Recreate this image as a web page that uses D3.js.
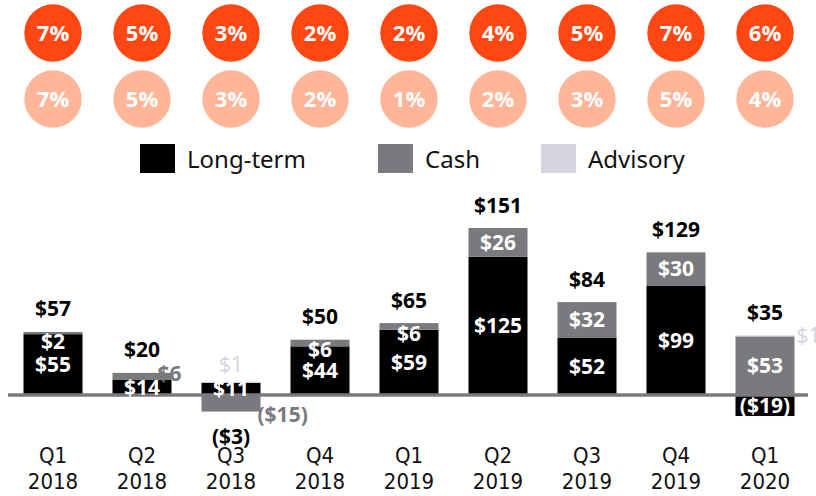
<!DOCTYPE html>
<html>
<head>
<meta charset="utf-8">
<script src="https://cdn.jsdelivr.net/npm/d3@7"></script>
<style>
  html, body { margin: 0; padding: 0; background: #fff; }
  svg { display: block; }
  .num { font-family: "Open Sans", "Liberation Sans", sans-serif; font-weight: 700; font-size: 21px; }
  .pct { font-family: "Open Sans", "Lato", sans-serif; font-weight: 700; font-size: 22px; fill: #fff; }
  .legend { font-family: "Noto Sans", "Open Sans", sans-serif; font-size: 24px; fill: #111; }
  .axis-label { font-family: "DejaVu Sans Condensed", "Liberation Sans Narrow", sans-serif; font-stretch: condensed; font-size: 22px; fill: #111; }
</style>
</head>
<body>
<div id="chart"></div>
<script>
// quarters and flows ($bn)
const quarters = ['Q1 2018', 'Q2 2018', 'Q3 2018', 'Q4 2018', 'Q1 2019', 'Q2 2019', 'Q3 2019', 'Q4 2019', 'Q1 2020'];
const longTerm = [55, 14, 11, 44, 59, 125, 52, 99, -19];
const cash     = [2, 6, -15, 6, 6, 26, 32, 30, 53];
const advisory = [0, 0, 1, 0, 0, 0, 0, 0, 1];
const totals   = [57, 20, -3, 50, 65, 151, 84, 129, 35];

// organic growth rates shown in circles
const growthTop    = ['7%', '5%', '3%', '2%', '2%', '4%', '5%', '7%', '6%'];
const growthBottom = ['7%', '5%', '3%', '2%', '1%', '2%', '3%', '5%', '4%'];

const seriesNames = ['Long-term', 'Cash', 'Advisory'];
const seriesColors = ['#000000', '#7a797e', '#d4d3de'];

const W = 816, H = 496;

const svg = d3.select('#chart').append('svg')
  .attr('width', W)
  .attr('height', H);

const x = d3.scaleBand()
  .domain(quarters)
  .range([8.5, 809.5])
  .paddingInner(0.337)
  .paddingOuter(0.1685);

const y = d3.scaleLinear()
  .domain([0, 151])
  .range([395, 228]);

const cx = d => x(d) + x.bandwidth() / 2;

// circles
const rows = [
  { vals: growthTop, cy: 33, fill: '#ff4713' },
  { vals: growthBottom, cy: 99, fill: '#ffb598' }
];
rows.forEach(function(row) {
  const g = svg.append('g');
  g.selectAll('circle').data(quarters).enter().append('circle')
    .attr('cx', cx)
    .attr('cy', row.cy)
    .attr('r', 28.7)
    .attr('fill', row.fill);
  g.selectAll('text').data(quarters).enter().append('text')
    .attr('class', 'pct')
    .attr('x', cx)
    .attr('y', row.cy + 8)
    .attr('text-anchor', 'middle')
    .text(function(d, i) { return row.vals[i]; });
});

// legend
const legendX = [140, 378, 541];
const legend = svg.append('g').selectAll('g').data(seriesNames).enter().append('g')
  .attr('transform', function(d, i) { return 'translate(' + legendX[i] + ',144)'; });
legend.append('rect')
  .attr('width', 35).attr('height', 29)
  .attr('fill', function(d, i) { return seriesColors[i]; });
legend.append('text')
  .attr('class', 'legend')
  .attr('x', 47).attr('y', 24)
  .text(d => d);

// stacked bars
const table = quarters.map(function(q, i) {
  return { q: q, lt: longTerm[i], cash: cash[i], adv: advisory[i] };
});
const stack = d3.stack().keys(['lt', 'cash', 'adv']).offset(d3.stackOffsetDiverging);
const layers = stack(table);

const bars = svg.append('g');
layers.forEach(function(layer, k) {
  bars.selectAll('.s' + k).data(layer).enter().append('rect')
    .attr('class', 's' + k)
    .attr('fill', seriesColors[k])
    .attr('x', d => x(d.data.q))
    .attr('width', x.bandwidth())
    .attr('y', d => y(Math.max(d[0], d[1])))
    .attr('height', d => Math.abs(y(d[0]) - y(d[1])));
});

// zero line
svg.append('line')
  .attr('x1', 8).attr('x2', 808)
  .attr('y1', y(0)).attr('y2', y(0))
  .attr('stroke', '#7a797e')
  .attr('stroke-width', 3.5);

const fmt = v => v < 0 ? '($' + (-v) + ')' : '$' + v;
const labels = svg.append('g');

function seg(k, i) {
  const d = layers[k][i];
  return { top: y(Math.max(d[0], d[1])), bottom: y(Math.min(d[0], d[1])) };
}

quarters.forEach(function(q, i) {
  const c = cx(q), right = x(q) + x.bandwidth();
  const lt = seg(0, i), cs = seg(1, i), ad = seg(2, i);
  const posTop = Math.min(lt.top, cs.top, ad.top, y(0));
  const negBottom = Math.max(lt.bottom, cs.bottom, ad.bottom, y(0));

  // long-term label
  labels.append('text').attr('class', 'num')
    .attr('x', c).attr('y', (lt.top + lt.bottom) / 2 + 7.5)
    .attr('text-anchor', 'middle').attr('fill', '#fff')
    .text(fmt(longTerm[i]));

  // cash label
  const ltShort = longTerm[i] > 0 && (lt.bottom - lt.top) < 30;
  if (ltShort && cash[i] > 0) {
    labels.append('text').attr('class', 'num')
      .attr('x', right - 2).attr('y', cs.top + 8)
      .attr('text-anchor', 'middle').attr('fill', seriesColors[1])
      .text(fmt(cash[i]));
  } else if (ltShort && cash[i] < 0) {
    labels.append('text').attr('class', 'num')
      .attr('x', right - 3).attr('y', cs.bottom + 10)
      .attr('text-anchor', 'start').attr('fill', seriesColors[1])
      .text(fmt(cash[i]));
  } else {
    const mid = Math.max((cs.top + cs.bottom) / 2, cs.top + 10);
    labels.append('text').attr('class', 'num')
      .attr('x', c).attr('y', mid + 7.5)
      .attr('text-anchor', 'middle').attr('fill', '#fff')
      .text(fmt(cash[i]));
  }

  // advisory label (only when present)
  if (advisory[i] !== 0) {
    const t = labels.append('text').attr('class', 'num')
      .attr('fill', seriesColors[2]).style('font-weight', 400).text(fmt(advisory[i]));
    if (totals[i] < 0) {
      t.attr('x', c).attr('y', posTop - 10).attr('text-anchor', 'middle');
    } else {
      t.attr('x', right + 2).attr('y', posTop + 8).attr('text-anchor', 'start');
    }
  }

  // total label
  labels.append('text').attr('class', 'num')
    .attr('x', c)
    .attr('y', totals[i] >= 0 ? posTop - 15.5 : negBottom + 32)
    .attr('text-anchor', 'middle').attr('fill', '#000')
    .text(fmt(totals[i]));
});

// x axis labels
const xl = svg.append('g').selectAll('text').data(quarters).enter().append('text')
  .attr('class', 'axis-label')
  .attr('text-anchor', 'middle');
xl.append('tspan').attr('x', cx).attr('y', 463).text(d => d.split(' ')[0]);
xl.append('tspan').attr('x', cx).attr('y', 489).text(d => d.split(' ')[1]);
</script>
</body>
</html>
